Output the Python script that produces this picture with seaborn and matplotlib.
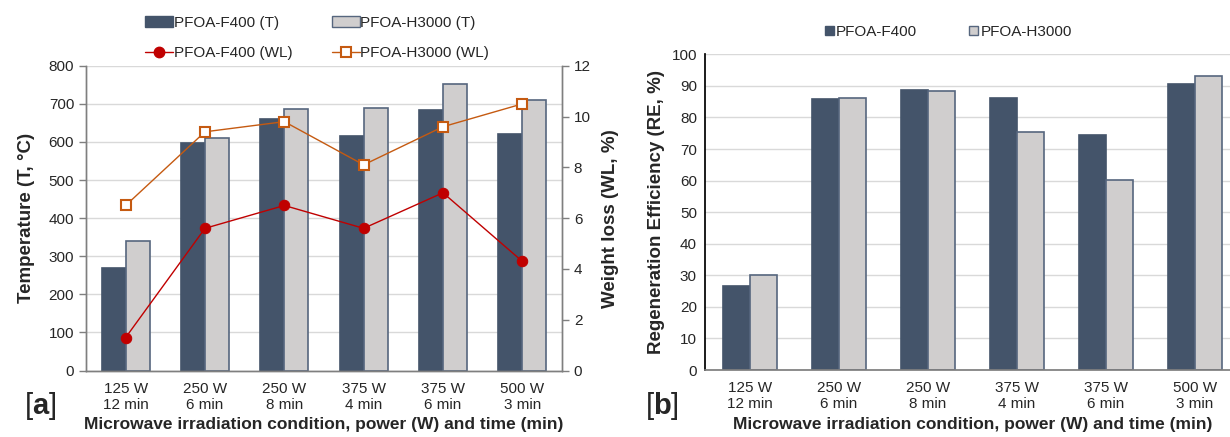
import matplotlib
matplotlib.use("Agg")
import matplotlib.pyplot as plt
import seaborn as sns
import pandas as pd
from matplotlib.lines import Line2D
from matplotlib.patches import Patch

# ---------------- data ----------------
conditions = ["125 W\n12 min", "250 W\n6 min", "250 W\n8 min",
              "375 W\n4 min", "375 W\n6 min", "500 W\n3 min"]
temp_f400 = [268, 598, 660, 615, 685, 620]
temp_h3000 = [340, 610, 686, 690, 753, 710]
wl_f400 = [1.3, 5.6, 6.5, 5.6, 7.0, 4.3]
wl_h3000 = [6.5, 9.4, 9.8, 8.1, 9.6, 10.5]
re_f400 = [26.7, 85.7, 88.8, 86.2, 74.3, 90.6]
re_h3000 = [30.2, 86.1, 88.4, 75.3, 60.3, 93.2]
series = ["PFOA-F400", "PFOA-H3000"]

sns.set_theme(style="white")
plt.rcParams["font.family"] = ["Liberation Sans", "DejaVu Sans"]
plt.rcParams["mathtext.fontset"] = "custom"
plt.rcParams["mathtext.bf"] = "Liberation Sans:bold"
plt.rcParams["mathtext.rm"] = "Liberation Sans"

DARK = "#44546A"
LIGHT = "#D0CECE"
EDGE = "#56667E"
RED = "#C00000"
ORANGE = "#C55A11"
GRID = "#D9D9D9"
TXT = "#262626"

XLAB_FS = 12.5
YLAB_FS = 13.5
TICK_FS = 11

df_t = pd.DataFrame({
    "cond": conditions * 2,
    "val": temp_f400 + temp_h3000,
    "series": [series[0]] * 6 + [series[1]] * 6,
})
df_wl = pd.DataFrame({
    "cond": conditions * 2,
    "val": wl_f400 + wl_h3000,
    "series": [series[0]] * 6 + [series[1]] * 6,
})
df_re = pd.DataFrame({
    "cond": conditions * 2,
    "val": re_f400 + re_h3000,
    "series": [series[0]] * 6 + [series[1]] * 6,
})

fig = plt.figure(figsize=(12.3, 4.37), dpi=100)
axA = fig.add_axes([0.0699, 0.152, 0.387, 0.6975])
axB = fig.add_axes([0.5734, 0.1533, 0.4343, 0.7224])

def style_bars(ax):
    n = len(conditions)
    for i, p in enumerate(ax.patches[:2 * n]):
        if i < n:
            p.set_facecolor(DARK)
            p.set_edgecolor(DARK)
        else:
            p.set_facecolor(LIGHT)
            p.set_edgecolor(EDGE)
        p.set_linewidth(1.2)

# ---------------- panel a ----------------
sns.barplot(data=df_t, x="cond", y="val", hue="series",
            palette=[DARK, LIGHT], width=0.608, gap=0, ax=axA,
            legend=False, errorbar=None, zorder=2)
style_bars(axA)
axA.set_ylim(0, 800)
axA.set_yticks(range(0, 801, 100))
axA.set_xlim(-0.5, 5.5)
axA.yaxis.grid(True, color=GRID, linewidth=1, zorder=0)
axA.set_axisbelow(True)
axA.set_ylabel("Temperature (T, °C)", fontsize=YLAB_FS, fontweight="bold", labelpad=10)
axA.set_xlabel("Microwave irradiation condition, power (W) and time (min)",
               fontsize=XLAB_FS, fontweight="bold", labelpad=4)

ax2 = axA.twinx()
sns.pointplot(data=df_wl, x="cond", y="val", hue="series",
              palette=[RED, ORANGE], markers=["o", "s"], linestyles=["-", "-"],
              ax=ax2, legend=False, errorbar=None, dodge=False,
              markersize=7, linewidth=1)
for ln in ax2.lines:
    if ln.get_marker() == "s":
        ln.set_markerfacecolor("white")
        ln.set_markeredgecolor(ORANGE)
        ln.set_markeredgewidth(1.5)
        ln.set_markersize(7.5)
    else:
        ln.set_markersize(7.5)
ax2.set_ylim(0, 12)
ax2.set_yticks(range(0, 13, 2))
ax2.set_xlim(-0.5, 5.5)
ax2.set_ylabel("Weight loss (WL, %)", fontsize=YLAB_FS, fontweight="bold", labelpad=8)

for ax in (axA, ax2):
    for s in ax.spines.values():
        s.set_color("#7F7F7F")
        s.set_linewidth(1)
    ax.spines["top"].set_visible(False)
    ax.tick_params(axis="y", which="major", direction="out", length=5,
                   width=1, color="#7F7F7F", labelsize=TICK_FS, labelcolor=TXT)
    ax.tick_params(axis="x", length=0, labelsize=TICK_FS, labelcolor=TXT, pad=8)

handles_a = [
    Patch(facecolor=DARK, edgecolor=DARK, label="PFOA-F400 (T)"),
    Line2D([], [], color=RED, marker="o", markersize=7.5, linewidth=1, label="PFOA-F400 (WL)"),
    Patch(facecolor=LIGHT, edgecolor=EDGE, label="PFOA-H3000 (T)"),
    Line2D([], [], color=ORANGE, marker="s", markersize=7.5, markerfacecolor="white",
           markeredgewidth=1.5, linewidth=1, label="PFOA-H3000 (WL)"),
]
fig.legend(handles=handles_a, ncol=2, loc="center", bbox_to_anchor=(0.258, 0.913),
           frameon=False, fontsize=11, handlelength=1.8, handletextpad=0.05,
           columnspacing=2.6, labelspacing=1.05)

fig.text(0.033, 0.072, r"[$\mathbf{a}$]", fontsize=21, ha="center", va="center")

# ---------------- panel b ----------------
sns.barplot(data=df_re, x="cond", y="val", hue="series",
            palette=[DARK, LIGHT], width=0.608, gap=0, ax=axB,
            legend=False, errorbar=None, zorder=2)
style_bars(axB)
axB.set_ylim(0, 100)
axB.set_yticks(range(0, 101, 10))
axB.set_xlim(-0.5, 5.5)
axB.yaxis.grid(True, color=GRID, linewidth=1, zorder=0)
axB.set_axisbelow(True)
axB.set_ylabel("Regeneration Efficiency (RE, %)", fontsize=YLAB_FS, fontweight="bold", labelpad=5)
axB.set_xlabel("Microwave irradiation condition, power (W) and time (min)",
               fontsize=XLAB_FS, fontweight="bold", labelpad=4)
for k in ("top", "right"):
    axB.spines[k].set_visible(False)
axB.spines["left"].set_color("black")
axB.spines["bottom"].set_color("#7F7F7F")
axB.tick_params(axis="y", direction="out", length=4, width=1, color="black",
                labelsize=TICK_FS, labelcolor=TXT, pad=2)
axB.tick_params(axis="x", length=0, labelsize=TICK_FS, labelcolor=TXT, pad=8)

handles_b = [
    Patch(facecolor=DARK, edgecolor=DARK, label="PFOA-F400"),
    Patch(facecolor=LIGHT, edgecolor=EDGE, label="PFOA-H3000"),
]
fig.legend(handles=handles_b, ncol=2, loc="center", bbox_to_anchor=(0.771, 0.927),
           frameon=False, fontsize=11, handlelength=0.6, handleheight=0.6,
           handletextpad=0.15, columnspacing=3.4)

fig.text(0.538, 0.072, r"[$\mathbf{b}$]", fontsize=21, ha="center", va="center")

fig.savefig("out.png", dpi=100)
